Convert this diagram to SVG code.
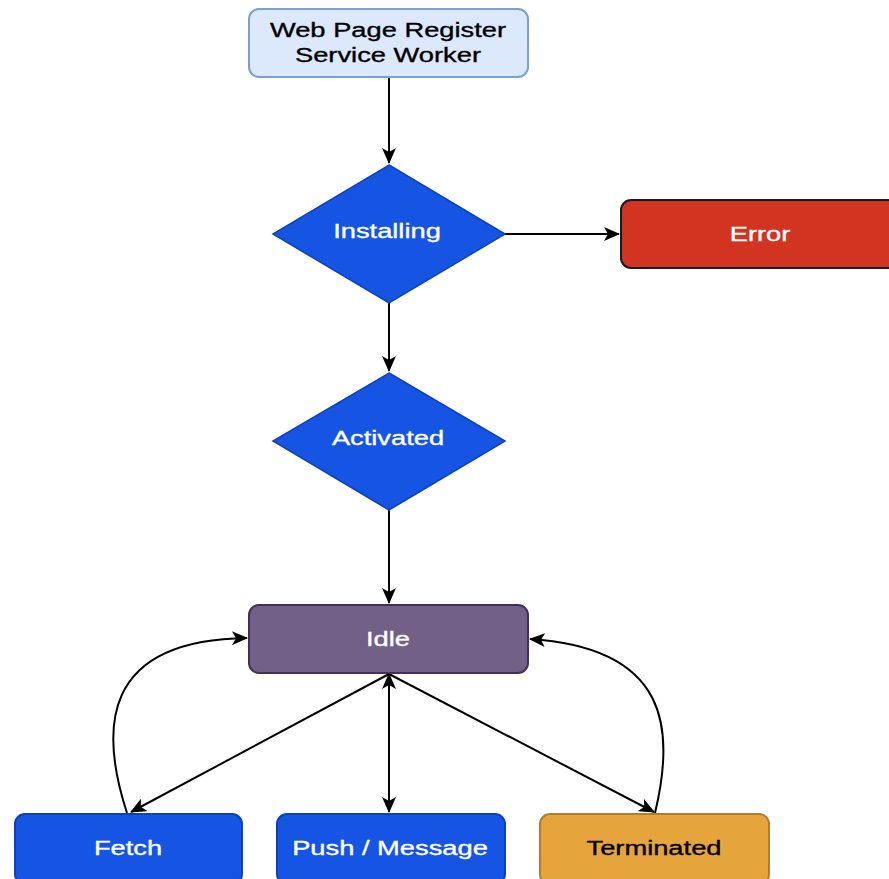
<svg xmlns="http://www.w3.org/2000/svg" width="889" height="879" viewBox="0 0 889 879">
<style>
.t{font-family:"Liberation Sans",Arial,sans-serif;font-size:21px;text-anchor:middle;fill:#fff;stroke:#fff;stroke-width:0.35}
.k{fill:#000;stroke:#000}
.e{fill:none;stroke:#000;stroke-width:2}
</style>
<defs>
<marker id="a" markerUnits="userSpaceOnUse" markerWidth="16" markerHeight="14" refX="15" refY="7" orient="auto-start-reverse" viewBox="0 0 16 14">
<path d="M0,0 L16,7 L0,14 L4,7 Z" fill="#000"/>
</marker>
</defs>
<rect width="889" height="879" fill="#fff"/>
<g id="connectors">
<path class="e" d="M389,78 V163" marker-end="url(#a)"/>
<path class="e" d="M505,234 H619" marker-end="url(#a)"/>
<path class="e" d="M389,303 V371" marker-end="url(#a)"/>
<path class="e" d="M389,510 V603" marker-end="url(#a)"/>
<path class="e" d="M389,674 L131,812" marker-end="url(#a)"/>
<path class="e" d="M389,674 V812" marker-start="url(#a)" marker-end="url(#a)"/>
<path class="e" d="M389,674 L654,812" marker-end="url(#a)"/>
<path class="e" d="M127,813 C100,730 100,640 247,638" marker-end="url(#a)"/>
<path class="e" d="M655,813 C675,730 670,648 530,639" marker-end="url(#a)"/>
</g>
<g id="register">
<rect x="249" y="9" width="279" height="68" rx="10" fill="#dce8fb" stroke="#7c9fd0" stroke-width="2"/>
<g transform="translate(388,0) scale(1.3,1)">
<text class="t k" x="0" y="37">Web Page Register</text>
<text class="t k" x="0" y="62">Service Worker</text>
</g>
</g>
<g id="installing">
<polygon points="389,165 505,234 389,303 273,234" fill="#1654e4" stroke="#0e40bb" stroke-width="1.5"/>
<text class="t" transform="translate(387,237.5) scale(1.3,1)">Installing</text>
</g>
<g id="error">
<rect x="621" y="200" width="280" height="68" rx="10" fill="#d33421" stroke="#1a1a1a" stroke-width="2"/>
<text class="t" transform="translate(760,241) scale(1.3,1)">Error</text>
</g>
<g id="activated">
<polygon points="389,373 505,441 389,510 273,441" fill="#1654e4" stroke="#0e40bb" stroke-width="1.5"/>
<text class="t" transform="translate(388,445) scale(1.3,1)">Activated</text>
</g>
<g id="idle">
<rect x="249" y="605" width="279" height="68" rx="10" fill="#736087" stroke="#43305a" stroke-width="2"/>
<text class="t" transform="translate(388,646) scale(1.3,1)">Idle</text>
</g>
<g id="fetch">
<rect x="15" y="814" width="227" height="70" rx="10" fill="#1654e4" stroke="#0e40bb" stroke-width="2"/>
<text class="t" transform="translate(128,855) scale(1.3,1)">Fetch</text>
</g>
<g id="push">
<rect x="277" y="814" width="228" height="70" rx="10" fill="#1654e4" stroke="#0e40bb" stroke-width="2"/>
<text class="t" transform="translate(390,855) scale(1.3,1)">Push / Message</text>
</g>
<g id="terminated">
<rect x="540" y="814" width="229" height="70" rx="10" fill="#e6a43c" stroke="#b47b30" stroke-width="2"/>
<text class="t k" transform="translate(654,855) scale(1.3,1)">Terminated</text>
</g>
</svg>
